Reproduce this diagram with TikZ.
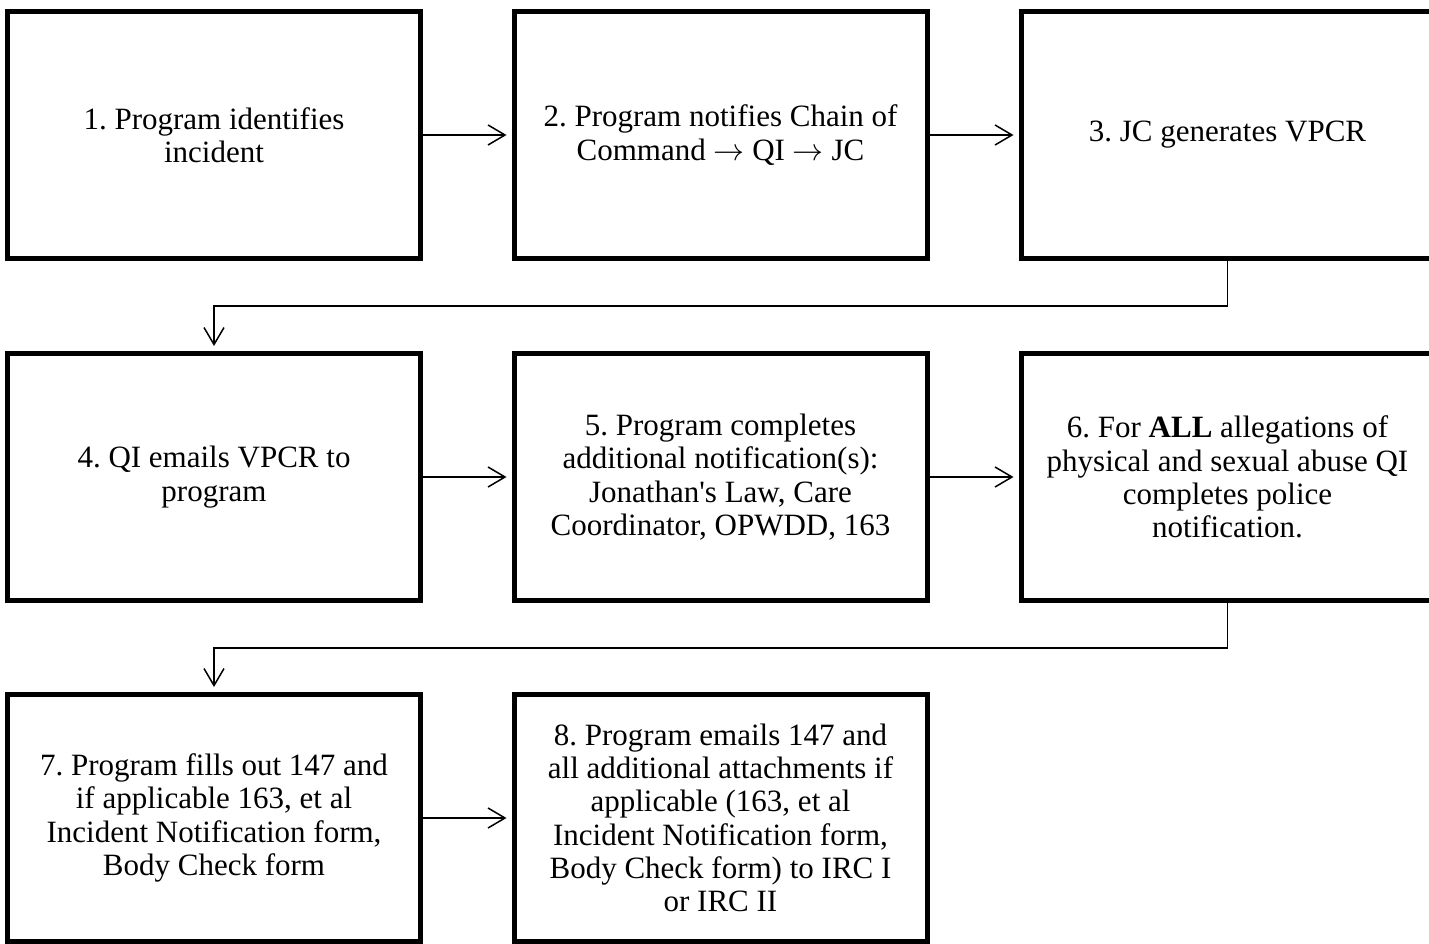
\RequirePackage{fix-cm}
\documentclass[tikz,border=0pt]{standalone}
\usepackage{fontspec}
\setmainfont{Liberation Serif}
\newcommand{\toarrow}{$\rightarrow$}
\usetikzlibrary{arrows.meta}
\frenchspacing
\begin{document}
\begin{tikzpicture}[x=1pt,y=-1pt,
  stepbox/.style={draw=black,line width=5pt,rectangle,
    minimum width=413pt,minimum height=247pt,inner sep=0pt,
    align=center,font=\fontsize{31}{33.3}\selectfont},
  flow/.style={line width=1.5pt,
    -{Straight Barb[length=17pt,width=20pt]},shorten >=5pt}]
\useasboundingbox (0,0) rectangle (1429,944);
\clip (0,0) rectangle (1429,944);
% first row
\node[stepbox] (b1) at (214,135) {1. Program identifies\\incident};
\node[stepbox] (b2) at (720.5,135) {2. Program notifies Chain of\\Command \toarrow{} QI \toarrow{} JC};
\node[stepbox] (b3) at (1227.5,135) {3. JC generates VPCR};
% second row
\node[stepbox] (b4) at (214,477) {4. QI emails VPCR to\\program};
\node[stepbox] (b5) at (720.5,477) {5. Program completes\\additional notification(s):\\Jonathan\textquotesingle s Law, Care\\Coordinator, OPWDD, 163};
\node[stepbox] (b6) at (1227.5,477) {6. For \textbf{ALL} allegations of\\physical and sexual abuse QI\\completes police\\notification.};
% third row
\node[stepbox] (b7) at (214,818) {7. Program fills out 147 and\\if applicable 163, et al\\Incident Notification form,\\Body Check form};
\node[stepbox] (b8) at (720.5,818) {8. Program emails 147 and\\all additional attachments if\\applicable (163, et al\\Incident Notification form,\\Body Check form) to IRC I\\or IRC II};
% connectors
\draw[flow] (b1) -- (b2);
\draw[flow] (b2) -- (b3);
\draw[flow] (b3.south) -- ++(0,45) -| (b4.north);
\draw[flow] (b4) -- (b5);
\draw[flow] (b5) -- (b6);
\draw[flow] (b6.south) -- ++(0,45) -| (b7.north);
\draw[flow] (b7) -- (b8);
\end{tikzpicture}
\end{document}
